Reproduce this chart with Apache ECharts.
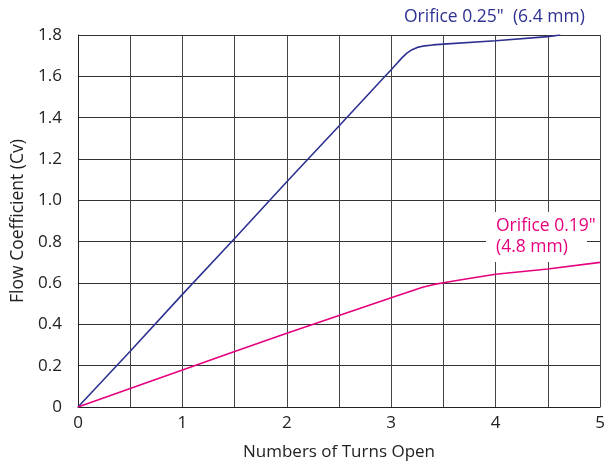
<!DOCTYPE html>
<html><head><meta charset="utf-8">
<script src="https://cdn.jsdelivr.net/npm/echarts@6/dist/echarts.min.js"></script>
<style>html,body{margin:0;padding:0;background:#fff}#c{width:613px;height:463px}</style>
</head><body><div id="c"></div>
<script>
const largeOrifice = [[0,0],[0.5,0.27],[1,0.545],[1.5,0.815],[2,1.09],[2.5,1.36],[2.95,1.605],[3,1.632],[3.05,1.66],[3.1,1.688],[3.15,1.712],[3.2,1.729],[3.25,1.74],[3.3,1.746],[3.4,1.752],[3.5,1.756],[4,1.772],[4.5,1.792],[4.62,1.8]];
const smallOrifice = [[0,0],[0.5,0.09],[1,0.179],[1.5,0.268],[2,0.357],[2.5,0.443],[3,0.529],[3.2,0.563],[3.3,0.579],[3.4,0.592],[3.5,0.601],[3.7,0.618],[4,0.642],[4.5,0.668],[5,0.70]];
const xTicks = [0,1,2,3,4,5];
const labelLarge = 'Orifice 0.25"  (6.4 mm)';
const labelSmall = ['Orifice 0.19"', '(4.8 mm)'];
const blue = '#2e3192', pink = '#e6007e';
const font = '"Open Sans", "Noto Sans", sans-serif';
const chart = echarts.init(document.getElementById('c'));
chart.setOption({
  animation:false,
  grid:{left:78,right:13,top:35,bottom:56,outerBoundsMode:'none',containLabel:false},
  xAxis:{type:'value',min:0,max:5,interval:0.5,
    name:'Numbers of Turns Open',nameLocation:'middle',nameGap:37,
    nameTextStyle:{fontFamily:font,fontSize:17,color:'#222'},
    axisLine:{lineStyle:{color:'#222',width:1}},axisTick:{show:false},
    axisLabel:{fontFamily:font,fontSize:17,color:'#222',margin:8,
      formatter:v=>xTicks.includes(v)?String(v):''},
    splitLine:{lineStyle:{color:'#444',width:1}}},
  yAxis:{type:'value',min:0,max:1.8,interval:0.2,
    name:'Flow Coefficient (Cv)',nameLocation:'middle',nameGap:49,
    nameTextStyle:{fontFamily:font,fontSize:17.5,color:'#222'},
    axisLine:{show:true,lineStyle:{color:'#222',width:1}},axisTick:{show:false},
    axisLabel:{fontFamily:font,fontSize:17,color:'#222',margin:16,
      formatter:v=>v===0?'0':v.toFixed(1)},
    splitLine:{lineStyle:{color:'#333',width:1}}},
  series:[
    {type:'line',data:largeOrifice,smooth:false,showSymbol:false,
     lineStyle:{color:blue,width:1.6},z:5},
    {type:'line',data:smallOrifice,smooth:false,showSymbol:false,
     lineStyle:{color:pink,width:1.6},z:5}
  ],
  graphic:[
    {type:'rect',shape:{x:486,y:212,width:101,height:50},style:{fill:'#fff'},z:10},
    {type:'text',left:404,top:8,style:{text:labelLarge,fill:blue,font:'17.5px '+font},z:11},
    {type:'text',left:496,top:216,style:{text:labelSmall.join('\n'),fill:pink,font:'17.5px '+font,lineHeight:21},z:11}
  ]
});
</script></body></html>
